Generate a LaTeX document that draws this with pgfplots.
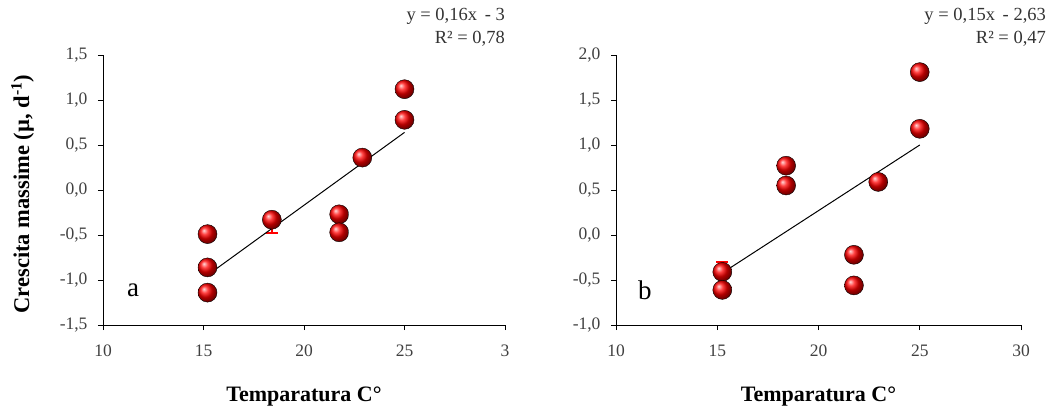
\documentclass[border=0pt]{standalone}
\usepackage{fontspec}
\setmainfont{Liberation Serif}
\usepackage{pgfplots}
\pgfplotsset{compat=1.18}
\begin{document}
\begin{tikzpicture}
\path[use as bounding box] (0pt,0pt) rectangle (1056pt,416pt);
\pgfplotsset{
  myax/.style={
    scale only axis, width=402pt, height=270pt,
    axis x line*=bottom, axis y line*=left,
    axis line style={black, line width=1pt},
    tick style={black, line width=1pt},
    tick align=outside, major tick length=5pt,
    xmin=10, xmax=30, xtick={10,15,20,25,30},
    tick label style={font=\fontsize{17.5}{17.5}\selectfont, text=black!75},
    xticklabel style={yshift=-11pt},
    yticklabel style={xshift=-7pt},
    xlabel style={font=\fontsize{22}{22}\selectfont, yshift=-24pt},
    clip=false,
  },
  pts/.style={only marks, mark=ball, mark size=9.5pt, mark options={ball color=red}},
}
% Left panel
\begin{axis}[myax, at={(103pt,91pt)}, anchor=south west,
  ymin=-1.5, ymax=1.5, ytick={-1.5,-1,-0.5,0,0.5,1,1.5},
  yticklabels={{-1,5},{-1,0},{-0,5},{0,0},{0,5},{1,0},{1,5}},
  xticklabels={10,15,20,25,3},
  ylabel={\textbf{Crescita massime (µ, d\textsuperscript{-1})}},
  ylabel style={font=\fontsize{22.5}{22.5}\selectfont, yshift=19pt, xshift=-4pt},
  xlabel={\textbf{Temparatura C°}},
]
\addplot[red, line width=1.5pt, error bars/.cd, y dir=minus, y explicit, error bar style={red, line width=1.5pt}, error mark options={rotate=90, mark size=6pt, red, line width=1.5pt}] coordinates {(18.4,-0.33) -= (0,0.15)};
\addplot[pts] coordinates {
(15.2,-0.49) (15.2,-0.86) (15.2,-1.14)
(18.4,-0.33)
(21.75,-0.27) (21.75,-0.47)
(22.9,0.36)
(25.0,1.12) (25.0,0.78)
};
\addplot[black, line width=1pt] coordinates {(15.3,-0.93) (25.0,0.64)};
\node[anchor=center, font=\fontsize{27}{27}\selectfont] at (axis cs:11.5,-1.11) {a};
\node[anchor=north east, align=right, font=\fontsize{18.5}{23}\selectfont, text=black!80, inner sep=0pt] at (rel axis cs:1,1.175) {y = 0,16x \,- 3\\R² = 0,78};
\end{axis}
% Right panel
\begin{axis}[myax, at={(616pt,91pt)}, anchor=south west, width=405pt,
  ymin=-1, ymax=2, ytick={-1,-0.5,0,0.5,1,1.5,2},
  yticklabels={{-1,0},{-0,5},{0,0},{0,5},{1,0},{1,5},{2,0}},
  xticklabels={10,15,20,25,30},
  xlabel={\textbf{Temparatura C°}},
]
\addplot[red, line width=1.5pt, error bars/.cd, y dir=plus, y explicit, error bar style={red, line width=1.5pt}, error mark options={rotate=90, mark size=6pt, red, line width=1.5pt}] coordinates {(15.25,-0.41) += (0,0.11)};
\addplot[pts] coordinates {
(15.25,-0.41) (15.25,-0.61)
(18.4,0.77) (18.4,0.55)
(21.75,-0.22) (21.75,-0.56)
(22.95,0.59)
(25.0,1.81) (25.0,1.18)
};
\addplot[black, line width=1pt] coordinates {(15.33,-0.41) (25.0,1.0)};
\node[anchor=center, font=\fontsize{27}{27}\selectfont] at (axis cs:11.43,-0.61) {b};
\node[anchor=north east, align=right, font=\fontsize{18.5}{23}\selectfont, text=black!80, inner sep=0pt] at (rel axis cs:1.062,1.175) {y = 0,15x \,- 2,63\\R² = 0,47\hspace{26pt}};
\end{axis}
\end{tikzpicture}
\end{document}
